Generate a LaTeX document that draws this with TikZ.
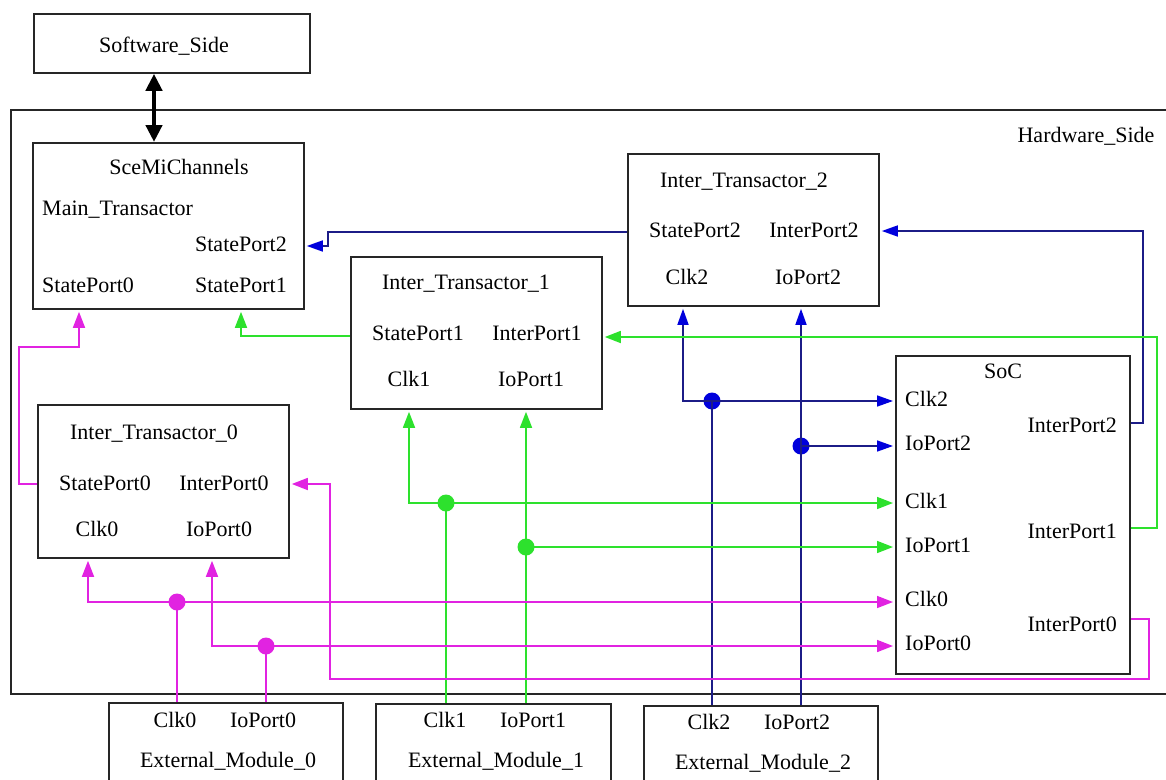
\documentclass[tikz,border=0pt]{standalone}
\usepackage{fontspec}
\setmainfont{Liberation Serif}
\usetikzlibrary{arrows.meta}
\definecolor{navy}{RGB}{28,28,135}
\definecolor{blu}{RGB}{0,0,220}
\definecolor{grn}{RGB}{45,225,45}
\definecolor{mag}{RGB}{225,35,225}
\begin{document}
\begin{tikzpicture}[x=1pt,y=-1pt,
  font=\fontsize{22}{26}\selectfont,
  box/.style 2 args={draw=black!85,line width=1.8pt,anchor=north west,inner sep=0pt,
    minimum width=#1,minimum height=#2},
  lbl/.style={inner sep=0pt,text height=17pt,text depth=2.4pt},
  bwire/.style={draw=navy,line width=1.6pt},
  gwire/.style={draw=grn,line width=1.6pt},
  mwire/.style={draw=mag,line width=1.6pt},
  btip/.style={bwire,-{Triangle[length=16pt,width=11pt,color=blu]},shorten >=2pt},
  gtip/.style={gwire,-{Triangle[length=16pt,width=12pt,color=grn]},shorten >=2pt},
  mtip/.style={mwire,-{Triangle[length=16pt,width=12pt,color=mag]},shorten >=2pt},
  dot/.style={circle,fill=#1,inner sep=0pt,minimum size=17pt}
]
\useasboundingbox (0,0) rectangle (1166,779);

% ---- boxes ----
\node[box={1170}{584}] (hw) at (10,109) {};
\node[box={276}{59}] (sw) at (33,13) {};
\node[box={271}{166}] (scemi) at (32,142) {};
\node[box={251}{153}] (it0) at (37,404) {};
\node[box={251}{152}] (it1) at (350,256) {};
\node[box={251}{152}] (it2) at (627,153) {};
\node[box={234}{318}] (soc) at (895,355) {};
\node[box={234}{120}] (em0) at (108,702) {};
\node[box={235}{120}] (em1) at (375,703) {};
\node[box={234}{120}] (em2) at (643,705) {};

% ---- texts ----
\node[lbl] (swt) at (164,45) {Software\_Side};
\node[lbl] (hwt) at (1086,135) {Hardware\_Side};

\node[lbl] (sct) at (179,167) {SceMiChannels};
\node[lbl,anchor=west] (scm) at (42,208) {Main\_Transactor};
\node[lbl,anchor=east] (sc2) at (287,244) {StatePort2};
\node[lbl,anchor=west] (sc0) at (42,285) {StatePort0};
\node[lbl,anchor=east] (sc1) at (287,285) {StatePort1};

\node[lbl] (i0t) at (154,432) {Inter\_Transactor\_0};
\node[lbl] (i0sp) at (105,483) {StatePort0};
\node[lbl] (i0ip) at (224,483) {InterPort0};
\node[lbl] (i0ck) at (97,529) {Clk0};
\node[lbl] (i0io) at (219,529) {IoPort0};

\node[lbl] (i1t) at (466,282) {Inter\_Transactor\_1};
\node[lbl] (i1sp) at (418,333) {StatePort1};
\node[lbl] (i1ip) at (537,333) {InterPort1};
\node[lbl] (i1ck) at (409,379) {Clk1};
\node[lbl] (i1io) at (531,379) {IoPort1};

\node[lbl] (i2t) at (744,180) {Inter\_Transactor\_2};
\node[lbl] (i2sp) at (695,230) {StatePort2};
\node[lbl] (i2ip) at (814,230) {InterPort2};
\node[lbl] (i2ck) at (687,277) {Clk2};
\node[lbl] (i2io) at (808,277) {IoPort2};

\node[lbl] (soct) at (1003,371) {SoC};
\node[lbl,anchor=west] (sck2) at (905,399) {Clk2};
\node[lbl,anchor=west] (sio2) at (905,443) {IoPort2};
\node[lbl,anchor=west] (sck1) at (905,501) {Clk1};
\node[lbl,anchor=west] (sio1) at (905,545) {IoPort1};
\node[lbl,anchor=west] (sck0) at (905,599) {Clk0};
\node[lbl,anchor=west] (sio0) at (905,643) {IoPort0};
\node[lbl,anchor=east] (sip2) at (1117,425) {InterPort2};
\node[lbl,anchor=east] (sip1) at (1117,531) {InterPort1};
\node[lbl,anchor=east] (sip0) at (1117,624) {InterPort0};

\node[lbl] (e0ck) at (175,720) {Clk0};
\node[lbl] (e0io) at (263,720) {IoPort0};
\node[lbl] (e0t) at (228,760) {External\_Module\_0};
\node[lbl] (e1ck) at (445,720) {Clk1};
\node[lbl] (e1io) at (533,720) {IoPort1};
\node[lbl] (e1t) at (496,760) {External\_Module\_1};
\node[lbl] (e2ck) at (709,722) {Clk2};
\node[lbl] (e2io) at (797,722) {IoPort2};
\node[lbl] (e2t) at (763,762) {External\_Module\_2};

% ---- software/hardware link ----
\draw[line width=4.5pt,{Triangle[length=17pt,width=16pt]}-{Triangle[length=17pt,width=16pt]}]
  (sw.south -| 154,0) -- (scemi.north -| 154,0);

% ---- blue nets ----
\draw[btip] (it2.west |- 0,232) -- (328,232) -- (328,246) -- (scemi.east |- 0,246);
\draw[btip] (soc.east |- 0,423) -- (1143,423) -- (1143,231) -- (it2.east |- 0,231);
\node[dot=blu] (jb1) at (712,401) {};
\node[dot=blu] (jb2) at (801,446) {};
\draw[bwire] (em2.north -| jb1) -- (jb1.center);
\draw[btip] (jb1.center) -- (683,401) -- (it2.south -| 683,0);
\draw[btip] (jb1.center) -- (soc.west |- jb1);
\draw[btip] (em2.north -| jb2) -- (it2.south -| jb2);
\draw[btip] (jb2.center) -- (soc.west |- jb2);

% ---- green nets ----
\draw[gtip] (it1.west |- 0,336) -- (241,336) -- (scemi.south -| 241,0);
\draw[gtip] (soc.east |- 0,528) -- (1157,528) -- (1157,337) -- (it1.east |- 0,337);
\node[dot=grn] (jg1) at (446,503) {};
\node[dot=grn] (jg2) at (526,547) {};
\draw[gwire] (em1.north -| jg1) -- (jg1.center);
\draw[gtip] (jg1.center) -- (409,503) -- (it1.south -| 409,0);
\draw[gtip] (jg1.center) -- (soc.west |- jg1);
\draw[gtip] (em1.north -| jg2) -- (it1.south -| jg2);
\draw[gtip] (jg2.center) -- (soc.west |- jg2);

% ---- magenta nets ----
\draw[mtip] (it0.west |- 0,484) -- (19,484) -- (19,347) -- (79,347) -- (scemi.south -| 79,0);
\draw[mtip] (soc.east |- 0,619) -- (1149,619) -- (1149,679) -- (330,679) -- (330,484) -- (it0.east |- 0,484);
\node[dot=mag] (jm1) at (177,602) {};
\node[dot=mag] (jm2) at (266,646) {};
\draw[mwire] (em0.north -| jm1) -- (jm1.center);
\draw[mtip] (jm1.center) -- (88,602) -- (it0.south -| 88,0);
\draw[mtip] (jm1.center) -- (soc.west |- jm1);
\draw[mwire] (em0.north -| jm2) -- (jm2.center);
\draw[mtip] (jm2.center) -- (212,646) -- (it0.south -| 212,0);
\draw[mtip] (jm2.center) -- (soc.west |- jm2);
\end{tikzpicture}
\end{document}
